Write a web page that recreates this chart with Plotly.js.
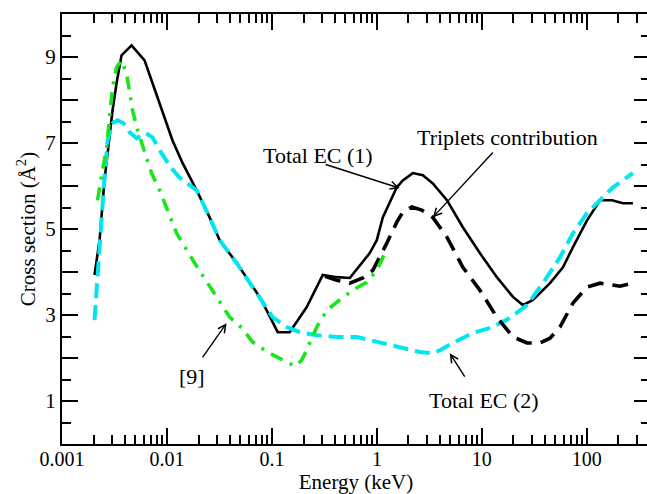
<!DOCTYPE html>
<html>
<head>
<meta charset="utf-8">
<script src="https://cdn.plot.ly/plotly-3.0.1.min.js"></script>
<style>
  html, body { margin: 0; padding: 0; overflow: hidden; background: #fff; }
  #chart { width: 652px; height: 494px; }
</style>
</head>
<body>
<div id="chart"></div>
<script>
// Electron-capture cross sections versus impact energy (keV), in Å^2.

// Total EC (1): solid black
const ec1Energy = [0.00204, 0.00228, 0.00254, 0.00284, 0.00303, 0.00331, 0.00369, 0.0046, 0.00548, 0.00612,
  0.00729, 0.00908, 0.0113, 0.0141, 0.0192, 0.0255, 0.0318, 0.0461, 0.0764, 0.0891,
  0.1135, 0.1476, 0.214, 0.305, 0.415, 0.552, 0.855, 0.998, 1.138, 1.548,
  1.766, 2.198, 2.74, 3.41, 4.65, 6.59, 9.57, 13.9, 19.8, 24.6,
  30.7, 44.6, 59.3, 73.8, 100.4, 133.7, 173.9, 221, 275];
const ec1Sigma = [3.93, 4.74, 6.13, 7.13, 7.76, 8.39, 9.04, 9.27, 9.04, 8.92,
  8.39, 7.71, 7.06, 6.53, 5.90, 5.27, 4.74, 4.21, 3.42, 3.11,
  2.60, 2.60, 3.18, 3.93, 3.88, 3.86, 4.44, 4.74, 5.27, 5.97,
  6.13, 6.30, 6.25, 6.06, 5.67, 5.04, 4.44, 3.88, 3.42, 3.23,
  3.35, 3.74, 4.11, 4.58, 5.20, 5.67, 5.67, 5.60, 5.60];

// Triplets contribution: dashed black
const tripEnergy = [0.321, 0.415, 0.552, 0.734, 0.915, 1.066, 1.243, 1.548, 1.766, 2.153,
  2.68, 3.41, 4.65, 6.59, 9.57, 13.9, 19.8, 26.9, 35.7, 44.6,
  55.5, 73.8, 100.4, 133.7, 207, 275];
const tripSigma = [3.90, 3.81, 3.74, 3.86, 4.04, 4.34, 4.67, 5.16, 5.39, 5.51,
  5.44, 5.27, 4.81, 4.11, 3.58, 2.95, 2.49, 2.35, 2.35, 2.46,
  2.72, 3.28, 3.65, 3.74, 3.67, 3.74];

// Total EC (2): dashed cyan
const ec2Energy = [0.00204, 0.00213, 0.00228, 0.00249, 0.00272, 0.00303, 0.00338, 0.00386, 0.0044, 0.00513,
  0.00625, 0.00729, 0.00889, 0.01107, 0.0131, 0.0192, 0.0255, 0.0318, 0.0461, 0.0764,
  0.1016, 0.138, 0.184, 0.267, 0.415, 0.643, 1.066, 1.652, 2.56, 3.41,
  3.98, 5.30, 8.21, 12.7, 18.5, 26.9, 38.2, 55.5, 73.8, 100.4,
  133.7, 177.8, 275];
const ec2Sigma = [2.88, 3.58, 4.74, 5.90, 7.06, 7.46, 7.53, 7.46, 7.25, 7.11,
  7.23, 7.13, 6.76, 6.41, 6.20, 5.90, 5.27, 4.74, 4.21, 3.42,
  2.95, 2.72, 2.60, 2.53, 2.49, 2.49, 2.37, 2.25, 2.14, 2.11,
  2.18, 2.35, 2.58, 2.72, 2.93, 3.23, 3.74, 4.34, 4.90, 5.37,
  5.67, 5.97, 6.30];

// Ref. [9]: dash-dot green
const ref9Energy = [0.00218, 0.00238, 0.00266, 0.00284, 0.00303, 0.00331, 0.00369, 0.00412, 0.0047, 0.00525,
  0.00639, 0.00713, 0.00851, 0.01236, 0.01834, 0.0267, 0.0396, 0.0515, 0.0656, 0.0891,
  0.1186, 0.165, 0.192, 0.214, 0.267, 0.333, 0.443, 0.589, 0.801, 0.998,
  1.138, 1.27];
const ref9Sigma = [5.67, 6.25, 6.90, 7.60, 8.29, 8.76, 8.92, 8.62, 7.76, 7.30,
  6.67, 6.30, 5.90, 4.90, 4.21, 3.58, 2.95, 2.70, 2.37, 2.15,
  2.00, 1.81, 1.95, 2.18, 2.72, 3.11, 3.35, 3.58, 3.76, 4.04,
  4.34, 4.51];

// Axis ticks
const xTickVals = [0.001, 0.01, 0.1, 1, 10, 100];
const xTickText = ['0.001', '0.01', '0.1', '1', '10', '100'];
const xMinorDigits = [2, 3, 4, 5, 6, 7, 8, 9];
const yTickVals = [1, 2, 3, 4, 5, 6, 7, 8, 9];
const yTickText = ['1', '', '3', '', '5', '', '7', '', '9'];
const yMinorVals = [0.5, 1.5, 2.5, 3.5, 4.5, 5.5, 6.5, 7.5, 8.5, 9.5];

// minor ticks at 2..9 within every decade shown
const xMinorVals = [];
xTickVals.forEach(d => xMinorDigits.forEach(m => xMinorVals.push(d * m)));

// Curve labels: text position and arrow tail/head, all in (energy, sigma)
const labels = [
  {text: 'Total EC (1)', at: [0.273, 6.71], tail: [0.298, 6.53], head: [1.65, 5.95]},
  {text: 'Triplets contribution', at: [17.7, 7.13], tail: [13.9, 6.88], head: [3.41, 5.27]},
  {text: '[9]', at: [0.0172, 1.56], tail: [0.020, 1.88], head: [0.037, 2.81]},
  {text: 'Total EC (2)', at: [10.4, 1.02], tail: [7.5, 1.42], head: [4.95, 2.11]}
];

const serif = 'Liberation Serif, Times New Roman, serif';

const traces = [
  {x: ec1Energy, y: ec1Sigma, mode: 'lines', name: 'Total EC (1)',
   line: {color: '#000000', width: 2.6}},
  {x: ec2Energy, y: ec2Sigma, mode: 'lines', name: 'Total EC (2)',
   line: {color: '#00e6f0', width: 4, dash: '15px,7px'}},
  {x: tripEnergy, y: tripSigma, mode: 'lines', name: 'Triplets contribution',
   line: {color: '#000000', width: 3.6, dash: '16px,9px'}},
  {x: ref9Energy, y: ref9Sigma, mode: 'lines', name: '[9]',
   line: {color: '#19e619', width: 3.6, dash: '13px,8px,3px,8px'}}
];

const annotations = [];
labels.forEach(l => {
  annotations.push({
    x: Math.log10(l.at[0]), y: l.at[1], xref: 'x', yref: 'y',
    text: l.text, showarrow: false, font: {family: serif, size: 22, color: '#000'}
  });
  annotations.push({
    x: Math.log10(l.head[0]), y: l.head[1], xref: 'x', yref: 'y',
    ax: Math.log10(l.tail[0]), ay: l.tail[1], axref: 'x', ayref: 'y',
    text: ' ', showarrow: true, arrowhead: 5, arrowsize: 1.1, arrowwidth: 1.4,
    arrowcolor: '#000', standoff: 0, startstandoff: 0
  });
});

const layout = {
  width: 652, height: 494,
  margin: {l: 62, r: 2, t: 14, b: 50},
  paper_bgcolor: '#ffffff', plot_bgcolor: '#ffffff',
  showlegend: false,
  font: {family: serif, size: 21, color: '#000'},
  xaxis: {
    type: 'log', range: [-3, Math.log10(400)],
    tickmode: 'array', tickvals: xTickVals, ticktext: xTickText,
    ticks: 'inside', ticklen: 16, tickwidth: 2, tickcolor: '#000',
    ticklabelstandoff: -4,
    minor: {ticks: 'inside', ticklen: 9, tickwidth: 2, tickcolor: '#000',
            tickmode: 'array', tickvals: xMinorVals},
    showline: true, linewidth: 2, linecolor: '#000', mirror: 'ticks',
    showgrid: false, zeroline: false,
    tickfont: {family: serif, size: 20},
    title: {text: 'Energy (keV)', font: {family: serif, size: 21}, standoff: 4}
  },
  yaxis: {
    range: [0, 10],
    tickmode: 'array', tickvals: yTickVals, ticktext: yTickText,
    ticks: 'inside', ticklen: 16, tickwidth: 2, tickcolor: '#000',
    minor: {ticks: 'inside', ticklen: 9, tickwidth: 2, tickcolor: '#000',
            tickmode: 'array', tickvals: yMinorVals},
    showline: true, linewidth: 2, linecolor: '#000', mirror: 'ticks',
    showgrid: false, zeroline: false,
    tickfont: {family: serif, size: 21},
    title: {text: 'Cross section (Å<sup>2</sup>)', font: {family: serif, size: 21}, standoff: 4}
  },
  annotations: annotations
};

Plotly.newPlot('chart', traces, layout, {displayModeBar: false, staticPlot: true});
</script>
</body>
</html>
